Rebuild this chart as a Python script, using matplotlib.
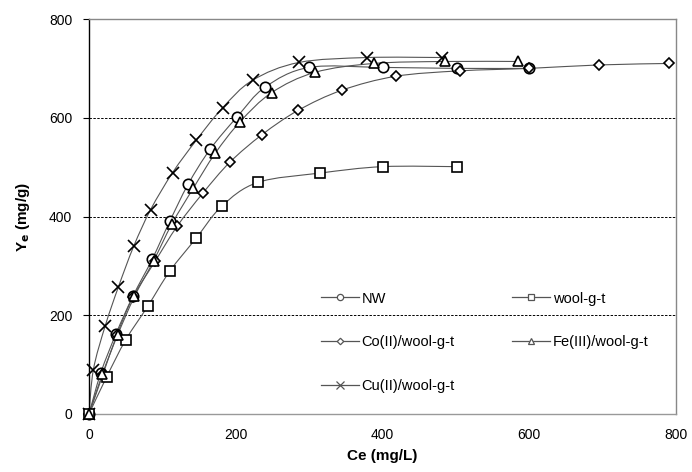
import matplotlib.pyplot as plt
import numpy as np
from matplotlib.path import Path
from matplotlib.patches import PathPatch
from matplotlib.lines import Line2D

plt.rcParams['font.family'] = ['Liberation Sans', 'DejaVu Sans']

# Equilibrium data
nw_x = [0, 16, 37, 60, 86, 110, 135, 165, 202, 240, 300, 400, 501, 600]
nw_y = [0, 83, 163, 239, 313, 390, 465, 536, 602, 662, 702, 702, 700, 700]

wool_x = [0, 24, 50, 80, 110, 146, 181, 230, 315, 400, 501]
wool_y = [0, 75, 150, 218, 289, 356, 421, 469, 488, 501, 501]

co_x = [0, 19, 38, 60, 90, 120, 155, 192, 236, 285, 345, 418, 505, 600, 695, 791]
co_y = [0, 80, 160, 237, 309, 380, 447, 510, 566, 615, 656, 684, 695, 700, 707, 710]

fe_x = [0, 18, 39, 62, 88, 113, 142, 172, 206, 249, 308, 388, 485, 584]
fe_y = [0, 80, 160, 238, 310, 385, 457, 528, 592, 651, 692, 710, 714, 714]

cu_x = [0, 6, 22, 40, 61, 84, 114, 146, 182, 223, 286, 379, 481]
cu_y = [0, 90, 178, 257, 340, 414, 489, 554, 620, 676, 712, 722, 722]

series = [
    ('NW', nw_x, nw_y, 'o', 7.5),
    ('Co(II)/wool-g-t', co_x, co_y, 'D', 5.5),
    ('Cu(II)/wool-g-t', cu_x, cu_y, 'x', 8.5),
    ('wool-g-t', wool_x, wool_y, 's', 7.5),
    ('Fe(III)/wool-g-t', fe_x, fe_y, '^', 7.5),
]

line_color = '#555555'


def smooth_path(x, y):
    """Catmull-Rom style Bezier path through the points (like Excel smoothing)."""
    pts = np.column_stack([x, y]).astype(float)
    verts = [pts[0]]
    codes = [Path.MOVETO]
    n = len(pts)
    for i in range(n - 1):
        p0 = pts[i - 1] if i > 0 else pts[i]
        p1 = pts[i]
        p2 = pts[i + 1]
        p3 = pts[i + 2] if i + 2 < n else pts[i + 1]
        c1 = p1 + (p2 - p0) / 6.0
        c2 = p2 - (p3 - p1) / 6.0
        verts += [c1, c2, p2]
        codes += [Path.CURVE4] * 3
    return Path(verts, codes)


fig = plt.figure(figsize=(6.92, 4.72), dpi=100)
ax = fig.add_axes([0.1286, 0.1229, 0.8483, 0.8368])

handles = []
for label, x, y, marker, ms in series:
    ax.add_patch(PathPatch(smooth_path(x, y), facecolor='none',
                           edgecolor=line_color, lw=0.8, zorder=2))
    ax.plot(x, y, linestyle='none', marker=marker, ms=ms, mfc='white',
            mec='black', mew=1.2, zorder=3, clip_on=False)
    handles.append(Line2D([], [], color=line_color, lw=0.9, marker=marker,
                          ms=ms * 0.6, mfc='white', mec=line_color, mew=0.9,
                          label=label))

ax.set_xlim(0, 800)
ax.set_ylim(0, 800)
ax.set_xticks([0, 200, 400, 600, 800])
ax.set_yticks([0, 200, 400, 600, 800])

for yv in [200, 400, 600]:
    ax.axhline(yv, color='black', lw=0.7, linestyle=(0, (2.5, 1.5)), zorder=1)

ax.spines['left'].set_color('black')
ax.spines['bottom'].set_color('#999999')
ax.spines['top'].set_color('#888888')
ax.spines['right'].set_color('#888888')
for s in ax.spines.values():
    s.set_linewidth(1.0)

ax.tick_params(axis='y', direction='out', length=4, width=0.8, pad=8,
               labelsize=10)
ax.tick_params(axis='x', length=0, pad=10, labelsize=10)

ax.set_xlabel('Ce (mg/L)', fontsize=11, fontweight='bold', labelpad=5)
ax.set_ylabel(r'Y$_\mathbf{e}$ (mg/g)', fontsize=11, fontweight='bold',
              labelpad=12)

ax.legend(handles=handles, ncol=2, frameon=False, loc='upper left',
          bbox_to_anchor=(0.395, 0.31), borderaxespad=0, borderpad=0,
          fontsize=10.5, handlelength=2.6, handletextpad=0.2,
          columnspacing=3.9, labelspacing=2.05)

fig.savefig('out.png', dpi=100)
